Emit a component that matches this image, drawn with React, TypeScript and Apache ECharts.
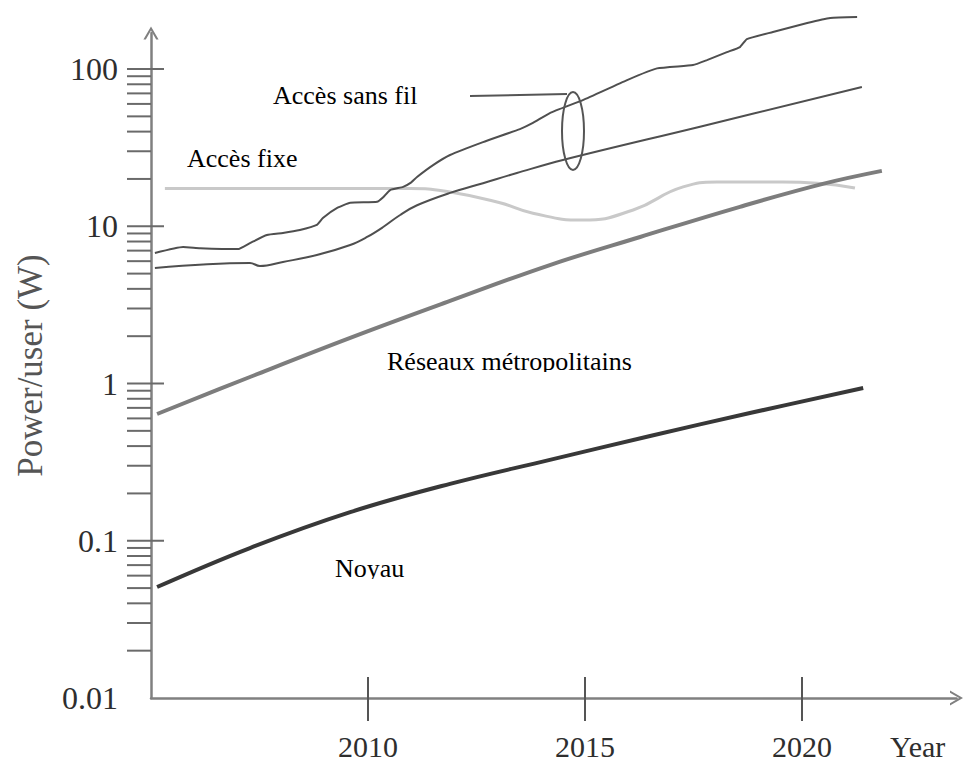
import React, { useEffect, useRef } from 'react';
import * as echarts from 'echarts';

// ---- axes ----
const X_MIN = 2005;
const X_MAX = 2023.56;
const X_TICK_YEARS = [2010, 2015, 2020];
const Y_MIN = 0.01;
const Y_MAX = 169.5;
const Y_TICK_LABELS = ['0.01', '0.1', '1', '10', '100'];
const Y_MAJOR_TICKS = [0.1, 1, 10, 100];
const Y_DECADES = [0.01, 0.1, 1, 10];
const Y_MINOR_MULTIPLIERS = [2, 3, 4, 5, 6, 7, 8, 9];

// ---- series (year, W/user) ----
const coreYears = [2005.14, 2007.28, 2009.59, 2011.89, 2014.19, 2016.5, 2018.8, 2021.41];
const coreValues = [0.0508, 0.0899, 0.152, 0.23, 0.327, 0.464, 0.649, 0.936];

const metroYears = [2005.14, 2007.28, 2009.59, 2011.89, 2014.19, 2016.27, 2018.57, 2020.48, 2021.84];
const metroValues = [0.64, 1.1, 1.95, 3.35, 5.67, 8.55, 13.3, 18.6, 22.5];

const fixedYears = [2005.32, 2008.43, 2010.97, 2011.89, 2013.04, 2013.8, 2014.95, 2016.11, 2017.26, 2018.04, 2019.56, 2020.35, 2021.22];
const fixedValues = [17.4, 17.4, 17.4, 16.5, 14.1, 12.1, 10.96, 12.7, 17.8, 19.1, 19.1, 18.8, 17.5];

const wirelessLowYears = [2005.09, 2007.28, 2007.51, 2008.04, 2008.82, 2009.59, 2009.98, 2010.35, 2010.74, 2011.13, 2011.89, 2012.65, 2013.43, 2014.49, 2017.65, 2021.38];
const wirelessLowValues = [5.43, 5.84, 5.59, 5.93, 6.56, 7.6, 8.55, 9.89, 11.8, 13.6, 16.3, 18.8, 21.8, 26.4, 43.0, 76.8];

const wirelessHighYears = [2005.09, 2005.74, 2006.13, 2007.0, 2007.28, 2007.67, 2008.04, 2008.43, 2008.82, 2008.96, 2009.29, 2009.59, 2010.21, 2010.35, 2010.51, 2010.81, 2010.97, 2011.13, 2011.5, 2011.89, 2012.65, 2013.5, 2013.8, 2014.19, 2014.95, 2015.97, 2016.66, 2017.49, 2017.81, 2018.27, 2018.57, 2018.73, 2019.33, 2020.12, 2020.65, 2021.27];
const wirelessHighValues = [6.76, 7.38, 7.26, 7.16, 7.82, 8.8, 9.06, 9.46, 10.2, 11.3, 13.1, 14.1, 14.3, 15.3, 17.0, 17.8, 18.8, 20.6, 24.5, 28.4, 34.3, 41.5, 45.4, 52.5, 63.5, 85.1, 101, 106, 114, 128, 138, 155, 172, 196, 211, 214];

const zip = (xs: number[], ys: number[]) => xs.map((x, i) => [x, ys[i]]);

const SERIF = 'Liberation Serif';
const ARROW = 'path://M0,12 L7,0 L14,12 L11.8,12 L7,3.6 L2.2,12 Z';

export default function App() {
  const ref = useRef<HTMLDivElement>(null);

  useEffect(() => {
    if (!ref.current) return;
    const chart = echarts.init(ref.current, null, { renderer: 'svg' });

    const yTickData: number[][] = [];
    Y_DECADES.forEach((d) => Y_MINOR_MULTIPLIERS.forEach((m) => yTickData.push([X_MIN, +(d * m).toPrecision(6), 0])));
    Y_MAJOR_TICKS.forEach((v) => yTickData.push([X_MIN, v, 1]));
    const xTickData = X_TICK_YEARS.map((y) => [y, Y_MIN]);

    const axisLineStyle = { color: '#808080', width: 2.5 };

    const option: any = {
      animation: false,
      backgroundColor: '#ffffff',
      grid: { left: 151, right: 964 - 956.5, top: 33, bottom: 761 - 698, containLabel: false },
      xAxis: {
        type: 'value',
        min: X_MIN,
        max: X_MAX,
        interval: 5,
        axisLine: { show: true, lineStyle: axisLineStyle, symbol: ['none', ARROW], symbolSize: [16, 13] },
        axisTick: { show: false },
        splitLine: { show: false },
        axisLabel: {
          showMinLabel: false,
          showMaxLabel: false,
          margin: 35,
          fontFamily: SERIF,
          fontSize: 30,
          lineHeight: 26,
          color: '#2e2e2e',
          formatter: (v: number) => (X_TICK_YEARS.includes(Math.round(v)) ? String(Math.round(v)) : ''),
        },
      },
      yAxis: {
        type: 'log',
        logBase: 10,
        min: Y_MIN,
        max: Y_MAX,
        axisLine: { show: true, lineStyle: axisLineStyle, symbol: ['none', ARROW], symbolSize: [16, 13] },
        axisTick: { show: false },
        splitLine: { show: false },
        axisLabel: {
          showMaxLabel: false,
          margin: 33,
          fontFamily: SERIF,
          fontSize: 32,
          color: '#2e2e2e',
          formatter: (v: number) => {
            const lg = Math.log10(v);
            const r = Math.round(lg);
            if (Math.abs(lg - r) > 1e-6) return '';
            return Y_TICK_LABELS[r + 2] ?? '';
          },
        },
        name: 'Power/user (W)',
        nameLocation: 'middle',
        nameRotate: 90,
        nameGap: 103,
        nameTextStyle: { fontFamily: SERIF, fontSize: 35, color: '#555555' },
      },
      series: [
        {
          type: 'custom',
          name: 'yticks',
          silent: true,
          clip: false,
          data: yTickData,
          encode: { x: 0, y: 1 },
          renderItem: (_p: any, api: any) => {
            const pt = api.coord([api.value(0), api.value(1)]);
            const major = api.value(2) === 1;
            return {
              type: 'line',
              shape: { x1: pt[0] - 24, y1: pt[1], x2: pt[0] + (major ? 13 : 0), y2: pt[1] },
              style: { stroke: '#6a6a6a', lineWidth: 2 },
            };
          },
        },
        {
          type: 'custom',
          name: 'xticks',
          silent: true,
          clip: false,
          data: xTickData,
          encode: { x: 0, y: 1 },
          renderItem: (_p: any, api: any) => {
            const pt = api.coord([api.value(0), api.value(1)]);
            return {
              type: 'line',
              shape: { x1: pt[0], y1: pt[1] - 21, x2: pt[0], y2: pt[1] + 23 },
              style: { stroke: '#555555', lineWidth: 2 },
            };
          },
        },
        {
          type: 'line', name: 'Accès fixe', data: zip(fixedYears, fixedValues), smooth: 0.5,
          showSymbol: false, symbol: 'none', clip: false, silent: true,
          lineStyle: { color: '#c9c9c9', width: 3 },
        },
        {
          type: 'line', name: 'Réseaux métropolitains', data: zip(metroYears, metroValues), smooth: 0.4,
          showSymbol: false, symbol: 'none', clip: false, silent: true,
          lineStyle: { color: '#7d7d7d', width: 4 },
        },
        {
          type: 'line', name: 'Noyau', data: zip(coreYears, coreValues), smooth: 0.4,
          showSymbol: false, symbol: 'none', clip: false, silent: true,
          lineStyle: { color: '#383838', width: 4 },
        },
        {
          type: 'line', name: 'Accès sans fil (bas)', data: zip(wirelessLowYears, wirelessLowValues), smooth: 0.4,
          showSymbol: false, symbol: 'none', clip: false, silent: true,
          lineStyle: { color: '#4f4f4f', width: 2 },
        },
        {
          type: 'line', name: 'Accès sans fil (haut)', data: zip(wirelessHighYears, wirelessHighValues), smooth: 0.15,
          showSymbol: false, symbol: 'none', clip: false, silent: true,
          lineStyle: { color: '#4f4f4f', width: 2 },
        },
      ],
      graphic: [
        { type: 'text', x: 273, y: 95, z: 50, style: { text: 'Accès sans fil', fontFamily: SERIF, fontSize: 26, fill: '#000', verticalAlign: 'middle' } },
        { type: 'text', x: 187, y: 158, z: 50, style: { text: 'Accès fixe', fontFamily: SERIF, fontSize: 26, fill: '#000', verticalAlign: 'middle' } },
        { type: 'text', x: 387, y: 361, z: 50, style: { text: 'Réseaux métropolitains', fontFamily: SERIF, fontSize: 26, fill: '#000', verticalAlign: 'middle' } },
        { type: 'text', x: 335, y: 568, z: 50, style: { text: 'Noyau', fontFamily: SERIF, fontSize: 26, fill: '#000', verticalAlign: 'middle' } },
        { type: 'rect', z: 60, shape: { x: 380, y: 372, width: 270, height: 10 }, style: { fill: '#ffffff' } },
        { type: 'rect', z: 60, shape: { x: 330, y: 579, width: 85, height: 10 }, style: { fill: '#ffffff' } },
        { type: 'line', z: 50, shape: { x1: 470, y1: 96, x2: 567, y2: 94 }, style: { stroke: '#555555', lineWidth: 2 } },
        { type: 'ellipse', z: 50, shape: { cx: 573, cy: 131, rx: 11, ry: 39 }, style: { stroke: '#555555', lineWidth: 2, fill: 'none' } },
        { type: 'text', x: 890, y: 746, z: 50, style: { text: 'Year', fontFamily: SERIF, fontSize: 30, lineHeight: 26, fill: '#2e2e2e', verticalAlign: 'middle' } },
      ],
    };

    chart.setOption(option);
    return () => chart.dispose();
  }, []);

  return (
    <div
      ref={ref}
      style={{ position: 'fixed', left: 0, top: 0, width: 964, height: 761, background: '#ffffff' }}
    />
  );
}
